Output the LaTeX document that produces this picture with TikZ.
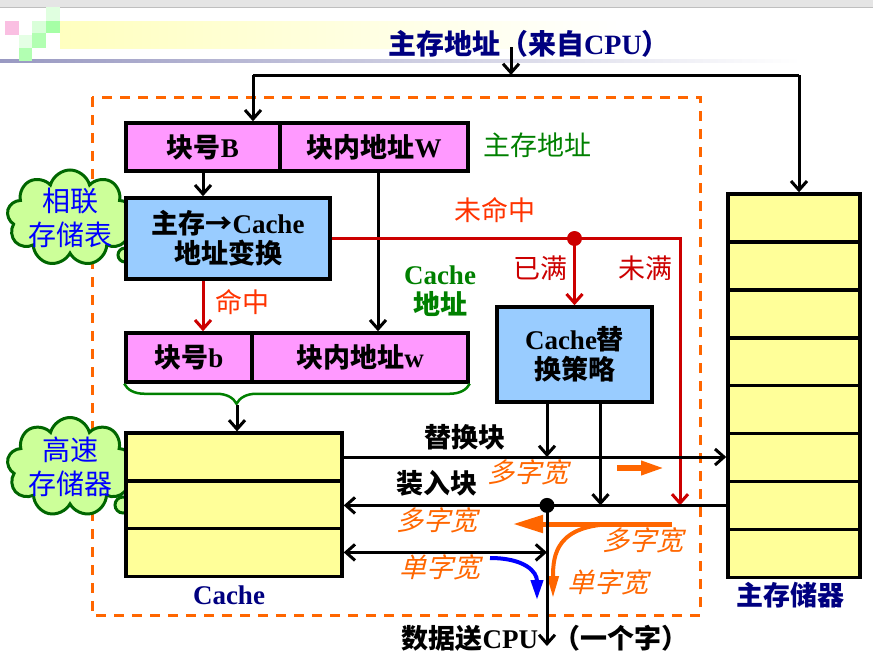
\documentclass[tikz,border=0pt]{standalone}
\usepackage{fontspec}
\setmainfont{Liberation Serif}
\newfontfamily\cjk{Noto Sans CJK SC}
\newfontfamily\cjkit{Noto Sans CJK SC}[FakeSlant=0.25]
\usetikzlibrary{arrows.meta,shapes.symbols,decorations.pathreplacing}
\definecolor{boxpink}{HTML}{FF99FF}
\definecolor{boxblue}{HTML}{99CCFF}
\definecolor{boxyellow}{HTML}{FFFF99}
\definecolor{cloudfill}{HTML}{CCFF99}
\definecolor{cloudline}{HTML}{006600}
\definecolor{navy}{HTML}{000080}
\definecolor{hitred}{HTML}{CC0000}
\definecolor{labred}{HTML}{FF3300}
\definecolor{dashorange}{HTML}{FF6600}
\definecolor{addrgreen}{HTML}{008000}
\newcommand{\zh}[1]{{\cjk #1}}
\newcommand{\bigfont}{\fontsize{27}{30}\selectfont}

\begin{document}
\begin{tikzpicture}[x=1pt,y=-1pt,line width=3pt,
   >={Straight Barb[length=9pt,width=16pt]},
   cell/.style={draw,line width=3.5pt,inner sep=0pt,font=\bigfont\bfseries},
   memo/.style={cloud,cloud puffs=9,cloud ignores aspect,draw=cloudline,fill=cloudfill,line width=3pt,
      inner sep=0pt,minimum width=#1},
   memotext/.style={text=blue,align=center,font=\fontsize{28}{34}\selectfont},
   bubble/.style={draw=cloudline,fill=cloudfill,line width=3pt},
   lbl/.style={font=\bigfont\bfseries},
   redlbl/.style={font=\bigfont,text=hitred},
   widelbl/.style={font=\bigfont\cjkit,text=dashorange},
   fat/.style={dashorange,line width=#1}]
   \useasboundingbox (0,0) rectangle (873,667);
   % banner
   \fill[black!10] (0,0) rectangle (873,7);
   \draw[black!25,line width=1pt] (0,7) -- (873,7);
   \shade[left color=yellow!25,right color=white] (60,21) rectangle (620,48);
   \shade[left color=blue!40!black!40,right color=white] (0,59) rectangle (800,62);
   \fill[green!12] (46,7) rectangle (60,21);
   \fill[magenta!25] (5,21) rectangle (19,35);
   \fill[green!15] (32,21) rectangle (46,33);
   \fill[green!35] (46,21) rectangle (60,33);
   \fill[green!30] (32,33) rectangle (46,48);
   \fill[green!10] (19,35) rectangle (32,48);
   \fill[green!30] (19,48) rectangle (32,61);
   \draw[dashorange,line width=3pt,dash pattern=on 10pt off 8pt] (92,97) rectangle (700,615);

   \node[memo=126pt,minimum height=96pt] (assoc) at (70,218) {};
   \node[memotext] at (assoc) {\zh{相联}\\\zh{存储表}};
   \draw[bubble] (125,255) circle (7);
   \draw[bubble] (135,262) circle (4);
   \node[memo=126pt,minimum height=99pt] (fastmem) at (70,467) {};
   \node[memotext] at (fastmem) {\zh{高速}\\\zh{存储器}};
   \draw[bubble] (123,505) circle (8);
   \draw[bubble] (133,513) circle (5);

   \node[lbl,text=navy,font=\fontsize{28}{31}\selectfont\bfseries] (title) at (529,44) {\zh{主存地址（来自}CPU\zh{）}};
   \node[cell,fill=boxpink,minimum width=154pt,minimum height=48pt] (bB) at (203,147) {\zh{块号}B};
   \node[cell,fill=boxpink,minimum width=188pt,minimum height=48pt] (bW) at (374,147) {\zh{块内地址}W};
   \node[font=\bigfont,text=addrgreen] (mainaddr) at (537,145) {\zh{主存地址}};
   \node[cell,fill=boxblue,minimum width=204pt,minimum height=81pt,align=center] (conv) at (228,238.5) {\zh{主存→}Cache\\\zh{地址变换}};
   \node[cell,fill=boxpink,minimum width=126pt,minimum height=49pt] (bb) at (189,357.5) {\zh{块号}b};
   \node[cell,fill=boxpink,minimum width=216pt,minimum height=49pt] (bw) at (360,357.5) {\zh{块内地址}w};
   \node[lbl,text=addrgreen,align=center] (cacheaddr) at (440,291) {Cache\\\zh{地址}};
   \node[cell,fill=boxblue,minimum width=155pt,minimum height=95pt,align=center] (repl) at (574.5,354.5) {Cache\zh{替}\\\zh{换策略}};
   \foreach \i in {0,1,2}
      \node[cell,fill=boxyellow,minimum width=216pt,minimum height=47.7pt] (c\i) at (234,457+47.7*\i) {};
   \foreach \i in {0,...,7}
      \node[cell,fill=boxyellow,minimum width=132pt,minimum height=47.9pt] (m\i) at (794,218+47.9*\i) {};
   \node[lbl,text=navy] (cachename) at (229,595) {Cache};
   \node[lbl,text=navy] (memname) at (790,595) {\zh{主存储器}};

   % address from CPU
   \coordinate (src) at (511,47);
   \coordinate (split) at (511,75);
   \coordinate (lt) at (253,75);
   \coordinate (rt) at (799,75);
   \draw[->] (src) -- (split);
   \draw (lt) -- (rt);
   \draw[->] (lt) -- (lt |- bB.north);
   \draw[->] (rt) -- (rt |- m0.north);
   \draw[->] (bB.south) -- (bB.south |- conv.north);
   \draw[->] ([xshift=4pt]bW.south) -- ([xshift=4pt]bW.south |- bw.north);
   \draw[addrgreen,line width=2.5pt,decorate,decoration={brace,mirror,amplitude=20pt,aspect=0.325}] (bb.south west) -- (bw.south east);
   \coordinate (tip) at (237,405);
   \draw[->] (tip) -- (tip |- c0.north);

   % hit / miss
   \draw[hitred,->] (bB.south |- conv.south) -- (bB.south |- bb.north);
   \node[redlbl,text=labred] (hit) at (242,302) {\zh{命中}};
   \coordinate (turn) at (680,238.5);
   \draw[hitred,->] (conv.east) -- (turn) -- (turn |- m6.west);
   \fill[hitred] (repl.north |- conv.east) circle (7.5);
   \draw[hitred,->] (repl.north |- conv.east) -- (repl.north);
   \node[redlbl,text=labred] (miss) at (495,210) {\zh{未命中}};
   \node[redlbl] (full) at (540,268) {\zh{已满}};
   \node[redlbl] (notfull) at (645,268) {\zh{未满}};

   % block transfers
   \coordinate (rl) at ([xshift=-27.5pt]repl.south);
   \coordinate (rr) at ([xshift=26pt]repl.south);
   \draw[->] (rl) -- (rl |- c0.east);
   \draw[->] (rr) -- (rr |- m6.west);
   \draw[->] (c0.east) -- (c0.east -| m5.west);
   \draw[->] (m6.west) -- (m6.west -| c1.east);
   \coordinate (ld) at (rl |- m6.west);
   \draw[<->] (c2.east) -- (c2.east -| ld);
   \node[lbl] (swapblk) at (465,437) {\zh{替换块}};
   \node[lbl] (loadblk) at (437,483) {\zh{装入块}};

   % widths
   \draw[fat=6pt,-{Triangle[length=24pt,width=13pt]}] (617,468) -- (665,468);
   \draw[fat=5pt,-{Triangle[length=30pt,width=17pt]}] (672,524) -- (513,524);
   \draw[fat=4pt,-{Triangle[length=22pt,width=11pt]}] (617,524) .. controls (556,524) and (553,555) .. (553,598);
   \draw[blue,line width=4pt,-{Triangle[length=20pt,width=12pt]}] (490,558) .. controls (525,558) and (537,572) .. (537,600);
   \node[widelbl] (w1) at (528,472) {多字宽};
   \node[widelbl] (w2) at (437,520) {多字宽};
   \node[widelbl] (w3) at (643,540) {多字宽};
   \node[widelbl] (s1) at (608,582) {单字宽};
   \node[widelbl] (s2) at (440,567) {单字宽};

   % to CPU
   \fill (ld) circle (7.5);
   \coordinate (out) at (547,646);
   \draw[->] (ld) -- (out);
   \node[lbl,anchor=east] (cpul) at (543,638) {\zh{数据送}CPU};
   \node[lbl,anchor=west] (cpur) at (549,638) {\zh{（一个字）}};
\end{tikzpicture}
\end{document}
